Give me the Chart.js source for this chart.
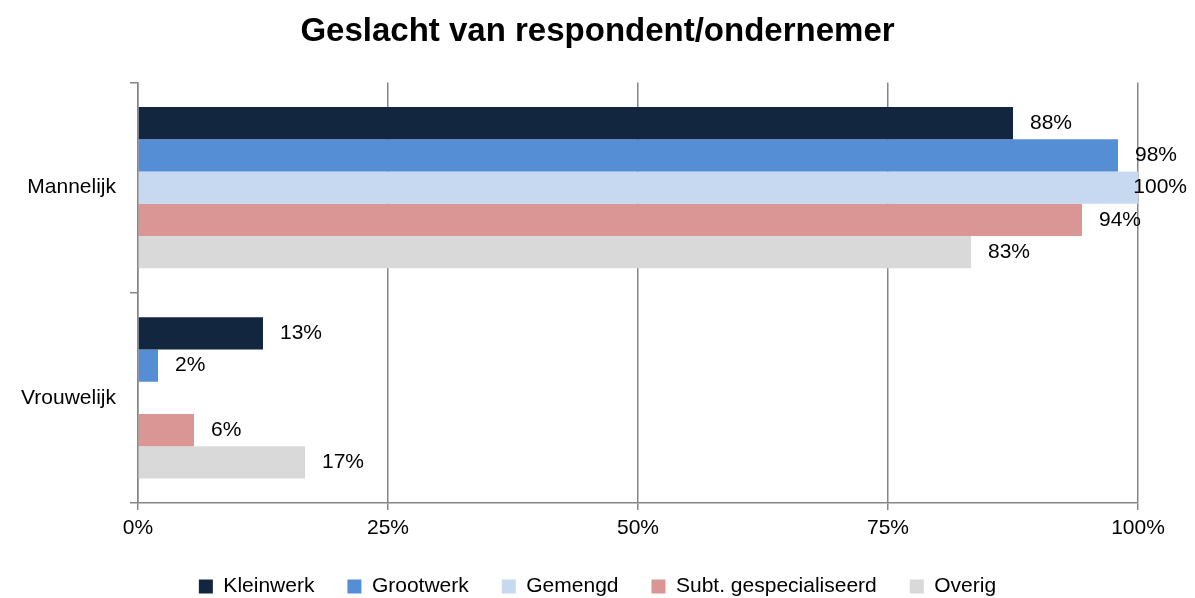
<!DOCTYPE html>
<html>
<head>
<meta charset="utf-8">
<script src="https://cdn.jsdelivr.net/npm/chart.js@4/dist/chart.umd.min.js"></script>
<style>
html, body { margin: 0; padding: 0; background: #fff; }
#wrap { width: 1195px; height: 598px; }
</style>
</head>
<body>
<div id="wrap"><canvas id="genderPlot" width="1195" height="598"></canvas></div>
<script>
// Data (percentages per group)
var categories = ["Mannelijk", "Vrouwelijk"];
var seriesNames = ["Kleinwerk", "Grootwerk", "Gemengd", "Subt. gespecialiseerd", "Overig"];
var kleinwerk = [87.5, 12.5];
var grootwerk = [98, 2];
var gemengd = [100, 0];
var subtGespecialiseerd = [94.4, 5.6];
var overig = [83.3, 16.7];
var xTicks = [0, 25, 50, 75, 100];

var seriesColors = ["#12263f", "#558ed5", "#c6d9f1", "#d99694", "#d9d9d9"];
var gridColor = "#868686";
var fontFamily = "'Liberation Sans', Arial, sans-serif";

// Value labels right of each bar
var barLabels = {
    id: "barLabels",
    afterDatasetsDraw: function(chart) {
        var ctx = chart.ctx;
        ctx.save();
        ctx.font = "21px " + fontFamily;
        ctx.fillStyle = "#000";
        ctx.textBaseline = "middle";
        ctx.textAlign = "left";
        chart.data.datasets.forEach(function(ds, i) {
            var meta = chart.getDatasetMeta(i);
            meta.data.forEach(function(bar, j) {
                var v = ds.data[j];
                if (!v)
                    return;
                var text = Math.round(v) + "%";
                var w = ctx.measureText(text).width;
                var x = Math.min(bar.x + 17, chart.width - 8 - w);
                ctx.fillText(text, x, bar.y);
            });
        });
        ctx.restore();
    }
};

function _dataset(label, values, color)
{
    return {
        label: label,
        data: values,
        backgroundColor: color,
        borderWidth: 0,
        barPercentage: 1,
        categoryPercentage: 0.767
    };
}

new Chart(document.getElementById("genderPlot"), {
    type: "bar",
    data: {
        labels: categories,
        datasets: [
            _dataset(seriesNames[0], kleinwerk, seriesColors[0]),
            _dataset(seriesNames[1], grootwerk, seriesColors[1]),
            _dataset(seriesNames[2], gemengd, seriesColors[2]),
            _dataset(seriesNames[3], subtGespecialiseerd, seriesColors[3]),
            _dataset(seriesNames[4], overig, seriesColors[4])
        ]
    },
    options: {
        indexAxis: "y",
        responsive: false,
        animation: false,
        devicePixelRatio: 1,
        layout: {
            padding: { left: 0, right: 0, top: 0, bottom: -9 }
        },
        scales: {
            x: {
                min: 0,
                max: 100,
                afterBuildTicks: function(scale) {
                    scale.ticks = xTicks.map(function(v) { return { value: v }; });
                },
                afterFit: function(scale) {
                    scale.height = 40;
                    // keep the plot right edge at 100% = x 1138
                    scale.paddingRight = 57;
                },
                grid: {
                    color: gridColor,
                    lineWidth: 1.5,
                    tickLength: 7
                },
                border: { color: gridColor, width: 1.5 },
                ticks: {
                    color: "#000",
                    padding: 6,
                    font: { family: fontFamily, size: 21 },
                    callback: function(v) { return v + "%"; }
                }
            },
            y: {
                afterFit: function(scale) {
                    scale.width = 138;
                },
                grid: {
                    drawOnChartArea: false,
                    color: gridColor,
                    lineWidth: 1.5,
                    tickLength: 8
                },
                border: { color: gridColor, width: 1.5 },
                ticks: {
                    color: "#000",
                    padding: 14,
                    font: { family: fontFamily, size: 21 }
                }
            }
        },
        plugins: {
            title: {
                display: true,
                text: "Geslacht van respondent/ondernemer",
                color: "#000",
                font: { family: fontFamily, size: 33, weight: "bold" },
                padding: { top: 12, bottom: 31 }
            },
            legend: {
                position: "bottom",
                labels: {
                    color: "#000",
                    boxWidth: 14,
                    boxHeight: 14,
                    padding: 33,
                    font: { family: fontFamily, size: 21 }
                }
            },
            tooltip: { enabled: false }
        }
    },
    plugins: [barLabels]
});
</script>
</body>
</html>
